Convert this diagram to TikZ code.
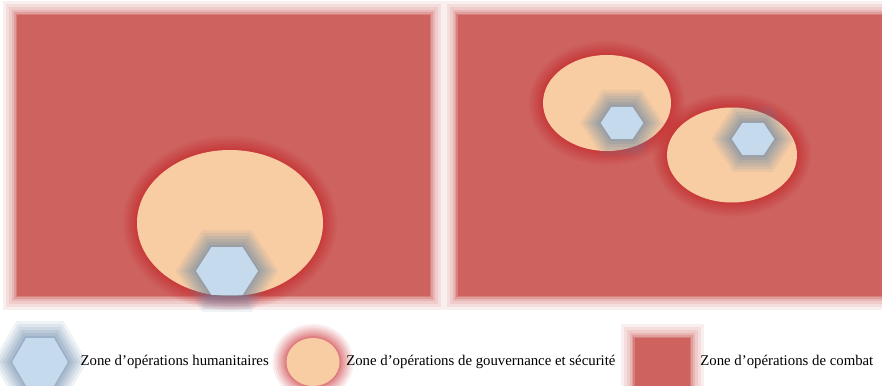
\documentclass[tikz,border=0pt]{standalone}
\usepackage{fontspec}
\setmainfont{Liberation Serif}
\usetikzlibrary{
positioning,
shapes.geometric
}
\definecolor{combat}{HTML}{CD625E}
\definecolor{gouv}{HTML}{F9CDA3}
\definecolor{humani}{HTML}{C6DAEE}
\definecolor{redrim}{HTML}{C8262A}
\definecolor{bluerim}{HTML}{6585A8}

\begin{document}
\begin{tikzpicture}[
x=0.5pt, y=-0.5pt,
node distance=5pt,
panel/.style={
rectangle,
fill=combat,
inner sep=0pt,
preaction={draw=combat, line width=14pt, opacity=0.1},
preaction={draw=combat, line width=11pt, opacity=0.12},
preaction={draw=combat, line width=8pt, opacity=0.15},
preaction={draw=combat, line width=5pt, opacity=0.2},
preaction={draw=combat, line width=3pt, opacity=0.3},
preaction={draw=combat, line width=1.2pt, opacity=0.5}
},
zone/.style={
ellipse,
fill=gouv,
inner sep=0pt,
preaction={draw=redrim, line width=14pt, opacity=0.08},
preaction={draw=redrim, line width=12pt, opacity=0.08},
preaction={draw=redrim, line width=10pt, opacity=0.1},
preaction={draw=redrim, line width=8pt, opacity=0.1},
preaction={draw=redrim, line width=6pt, opacity=0.12},
preaction={draw=redrim, line width=4pt, opacity=0.15},
preaction={draw=redrim, line width=2pt, opacity=0.2}
},
hexa/.style={
regular polygon,
regular polygon sides=6,
fill=humani,
inner sep=0pt,
preaction={draw=bluerim, line width=17pt, opacity=0.1},
preaction={draw=bluerim, line width=14pt, opacity=0.12},
preaction={draw=bluerim, line width=11pt, opacity=0.14},
preaction={draw=bluerim, line width=8pt, opacity=0.16},
preaction={draw=bluerim, line width=5pt, opacity=0.18},
preaction={draw=bluerim, line width=2pt, opacity=0.22}
},
legend/.style={
inner sep=0pt,
font=\fontsize{7.4}{9}\selectfont
}
]
\useasboundingbox (0,0) rectangle (882,385);

% two theatres
\node[panel, minimum width=206.5pt, minimum height=140.5pt] (left) at (223.5,155.5) {};
\node[panel, minimum width=223.5pt, minimum height=140.5pt] (right) at (681,155.5) {};

% left theatre: one zone
\node[zone, minimum width=93pt, minimum height=73pt] (zoneA) at (230,223) {};
\node[hexa, minimum size=27.7pt, xscale=1.12, transform shape] (hexA) at (227,271) {};

% right theatre: two zones
\node[zone, minimum width=64pt, minimum height=48pt] (zoneB) at (607,103) {};
\node[hexa, minimum size=18.5pt, xscale=1.15, transform shape] (hexB) at (622,123) {};
\node[zone, minimum width=65pt, minimum height=47.5pt] (zoneC) at (732,155) {};
\node[hexa, minimum size=18.5pt, xscale=1.15, transform shape] (hexC) at (753,139) {};

% legend
\node[hexa, minimum size=27.7pt] (keyhum) at (40,362) {};
\node[legend, right=6pt of keyhum] (txthum) {Zone d'opérations humanitaires};
\node[zone, minimum width=26.5pt, minimum height=24pt] (keygouv) at (313,362) {};
\node[legend, right=3pt of keygouv] (txtgouv) {Zone d'opérations de gouvernance et sécurité};
\node[panel, minimum width=27.5pt, minimum height=24pt] (keycombat) at (662,362) {};
\node[legend, right=5pt of keycombat] (txtcombat) {Zone d'opérations de combat};

\end{tikzpicture}
\end{document}
